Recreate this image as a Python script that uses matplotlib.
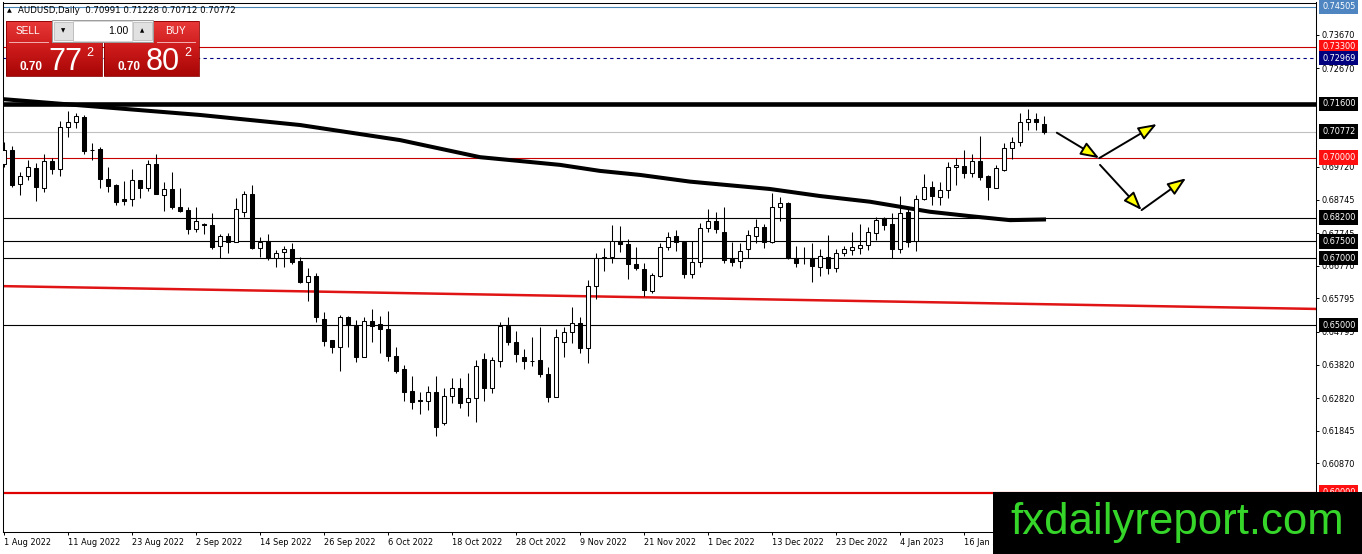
import numpy as np
import matplotlib
matplotlib.use("Agg")
from matplotlib import pyplot as plt
from matplotlib.patches import Rectangle
from matplotlib.colors import LinearSegmentedColormap

# AUDUSD daily candles, 1 Aug 2022 .. 30 Jan 2023
opens = [0.6980, 0.7022, 0.6921, 0.6945, 0.6969, 0.6909, 0.6990, 0.6966, 0.7092, 0.7107,
         0.7122, 0.7022, 0.7025, 0.6936, 0.6918, 0.6876, 0.6876, 0.6933, 0.6909, 0.6981,
         0.6888, 0.6906, 0.6851, 0.6843, 0.6786, 0.6801, 0.6799, 0.6736, 0.6767, 0.6749,
         0.6836, 0.6891, 0.6729, 0.6751, 0.6701, 0.6717, 0.6727, 0.6691, 0.6629, 0.6646,
         0.6517, 0.6455, 0.6433, 0.6523, 0.6497, 0.6404, 0.6513, 0.6503, 0.6487, 0.6407,
         0.6368, 0.6303, 0.6276, 0.6274, 0.6299, 0.6208, 0.6289, 0.6311, 0.6269, 0.6281,
         0.6399, 0.6313, 0.6393, 0.6498, 0.6450, 0.6404, 0.6394, 0.6396, 0.6354, 0.6286,
         0.6448, 0.6478, 0.6505, 0.6430, 0.6617, 0.6701, 0.6702, 0.6752, 0.6742, 0.6682,
         0.6666, 0.6602, 0.6646, 0.6732, 0.6766, 0.6747, 0.6651, 0.6687, 0.6789, 0.6811,
         0.6777, 0.6697, 0.6691, 0.6726, 0.6767, 0.6793, 0.6747, 0.6853, 0.6863, 0.6701,
         0.6701, 0.6701, 0.6674, 0.6704, 0.6669, 0.6714, 0.6724, 0.6731, 0.6739, 0.6774,
         0.6818, 0.6801, 0.6726, 0.6836, 0.6752, 0.6876, 0.6911, 0.6883, 0.6903, 0.6971,
         0.6975, 0.6955, 0.6990, 0.6945, 0.6908, 0.6963, 0.7027, 0.7045, 0.7105, 0.7115,
         0.70991]
highs = [0.7047, 0.7034, 0.6958, 0.6993, 0.6984, 0.7010, 0.6998, 0.7109, 0.7139, 0.7133,
         0.7127, 0.7044, 0.7032, 0.6973, 0.6920, 0.6930, 0.6966, 0.6933, 0.6993, 0.7010,
         0.6927, 0.6957, 0.6908, 0.6853, 0.6853, 0.6805, 0.6834, 0.6772, 0.6774, 0.6878,
         0.6901, 0.6918, 0.6762, 0.6771, 0.6724, 0.6736, 0.6746, 0.6704, 0.6671, 0.6656,
         0.6540, 0.6455, 0.6530, 0.6528, 0.6515, 0.6523, 0.6548, 0.6528, 0.6542, 0.6435,
         0.6381, 0.6348, 0.6299, 0.6318, 0.6348, 0.6311, 0.6341, 0.6341, 0.6358, 0.6396,
         0.6416, 0.6405, 0.6510, 0.6525, 0.6482, 0.6428, 0.6465, 0.6495, 0.6374, 0.6487,
         0.6493, 0.6553, 0.6525, 0.6634, 0.6716, 0.6731, 0.6799, 0.6796, 0.6756, 0.6732,
         0.6686, 0.6654, 0.6744, 0.6779, 0.6784, 0.6747, 0.6752, 0.6804, 0.6845, 0.6836,
         0.6851, 0.6747, 0.6746, 0.6784, 0.6816, 0.6801, 0.6893, 0.6883, 0.6868, 0.6737,
         0.6732, 0.6746, 0.6727, 0.6769, 0.6726, 0.6736, 0.6777, 0.6801, 0.6792, 0.6821,
         0.6823, 0.6835, 0.6886, 0.6848, 0.6888, 0.6951, 0.6931, 0.6928, 0.6987, 0.6998,
         0.7022, 0.7010, 0.7064, 0.6948, 0.6978, 0.7044, 0.7060, 0.7132, 0.7144, 0.7132,
         0.71228]
lows = [0.6972, 0.6912, 0.6888, 0.6933, 0.6870, 0.6897, 0.6951, 0.6946, 0.7062, 0.7088,
        0.7010, 0.6993, 0.6909, 0.6898, 0.6858, 0.6858, 0.6855, 0.6879, 0.6900, 0.6891,
        0.6841, 0.6846, 0.6836, 0.6771, 0.6779, 0.6772, 0.6727, 0.6701, 0.6714, 0.6749,
        0.6823, 0.6727, 0.6704, 0.6694, 0.6672, 0.6672, 0.6681, 0.6624, 0.6573, 0.6510,
        0.6438, 0.6416, 0.6364, 0.6435, 0.6390, 0.6404, 0.6450, 0.6417, 0.6393, 0.6356,
        0.6274, 0.6248, 0.6234, 0.6246, 0.6170, 0.6202, 0.6266, 0.6251, 0.6228, 0.6211,
        0.6273, 0.6298, 0.6374, 0.6440, 0.6389, 0.6368, 0.6378, 0.6346, 0.6271, 0.6286,
        0.6405, 0.6445, 0.6416, 0.6386, 0.6578, 0.6662, 0.6686, 0.6719, 0.6636, 0.6664,
        0.6587, 0.6595, 0.6644, 0.6724, 0.6722, 0.6641, 0.6641, 0.6672, 0.6779, 0.6774,
        0.6686, 0.6677, 0.6669, 0.6701, 0.6744, 0.6729, 0.6744, 0.6811, 0.6696, 0.6672,
        0.6682, 0.6629, 0.6647, 0.6652, 0.6659, 0.6707, 0.6709, 0.6712, 0.6724, 0.6754,
        0.6784, 0.6699, 0.6716, 0.6734, 0.6722, 0.6873, 0.6858, 0.6858, 0.6878, 0.6918,
        0.6940, 0.6941, 0.6933, 0.6873, 0.6908, 0.6961, 0.6995, 0.7035, 0.7082, 0.7082,
        0.70712]
closes = [0.7022, 0.6918, 0.6945, 0.6973, 0.6913, 0.6990, 0.6966, 0.7092, 0.7106, 0.7124,
          0.7019, 0.7021, 0.6936, 0.6916, 0.6868, 0.6870, 0.6933, 0.6909, 0.6981, 0.6891,
          0.6906, 0.6853, 0.6841, 0.6786, 0.6811, 0.6799, 0.6734, 0.6767, 0.6749, 0.6846,
          0.6891, 0.6729, 0.6749, 0.6699, 0.6714, 0.6727, 0.6689, 0.6629, 0.6646, 0.6525,
          0.6453, 0.6433, 0.6523, 0.6500, 0.6404, 0.6513, 0.6498, 0.6487, 0.6408, 0.6364,
          0.6301, 0.6271, 0.6274, 0.6299, 0.6195, 0.6289, 0.6311, 0.6268, 0.6281, 0.6378,
          0.6313, 0.6396, 0.6497, 0.6450, 0.6413, 0.6393, 0.6393, 0.6353, 0.6286, 0.6463,
          0.6478, 0.6505, 0.6430, 0.6617, 0.6701, 0.6702, 0.6752, 0.6741, 0.6681, 0.6671,
          0.6604, 0.6649, 0.6732, 0.6764, 0.6747, 0.6651, 0.6687, 0.6789, 0.6811, 0.6786,
          0.6694, 0.6687, 0.6722, 0.6769, 0.6793, 0.6747, 0.6853, 0.6863, 0.6701, 0.6684,
          0.6699, 0.6676, 0.6707, 0.6669, 0.6714, 0.6726, 0.6732, 0.6739, 0.6777, 0.6813,
          0.6799, 0.6726, 0.6835, 0.6749, 0.6875, 0.6911, 0.6885, 0.6903, 0.6971, 0.6978,
          0.6955, 0.6990, 0.6943, 0.6911, 0.6968, 0.7027, 0.7045, 0.7107, 0.7115, 0.7105,
          0.70772]
ask = 0.70802

# date labels every 8 bars
date_ticks = [0, 8, 16, 24, 32, 40, 48, 56, 64, 72, 80, 88, 96, 104, 112, 120]
date_labels = ["1 Aug 2022", "11 Aug 2022", "23 Aug 2022", "2 Sep 2022", "14 Sep 2022",
               "26 Sep 2022", "6 Oct 2022", "18 Oct 2022", "28 Oct 2022", "9 Nov 2022",
               "21 Nov 2022", "1 Dec 2022", "13 Dec 2022", "23 Dec 2022", "4 Jan 2023",
               "16 Jan 2023"]

price_ticks = [0.73670, 0.72670, 0.69720, 0.68745, 0.67745, 0.66770, 0.65795,
               0.64795, 0.63820, 0.62820, 0.61845, 0.60870]

# moving average (thick black curve)
ma_bars = [0, 12, 24.5, 37, 49.5, 59.5, 69.5, 74.5, 79.5, 85.75, 95.75, 102,
           108.25, 112, 115.75, 120.75, 125.75, 130]
ma_vals = [0.7174, 0.7151, 0.7127, 0.7097, 0.7052, 0.7001, 0.6978, 0.6960, 0.6948,
           0.6928, 0.6906, 0.6885, 0.6868, 0.6853, 0.6838, 0.6825, 0.6813, 0.6815]

# red trend line
trend_bars = [0, 164]
trend_vals = [0.6616, 0.6548]

# horizontal levels
levels = [0.74505, 0.73300, 0.72969, 0.71600, 0.70772, 0.70000, 0.68200, 0.67500, 0.67000, 0.65000, 0.60000]
level_colors = ["#4682b4", "#c80000", "#000080", "black", "#c0c0c0", "#c80000",
                "black", "black", "black", "black", "#e00000"]
level_widths = [0.8, 0.8, 0.8, 3.3, 0.8, 0.8, 0.8, 0.8, 0.8, 0.8, 1.6]
level_styles = ["-", "-", (0, (3, 3)), "-", "-", "-", "-", "-", "-", "-", "-"]
label_bg = ["#4f86c2", "#ff1010", "#00007f", "black", "black", "#ff1010",
            "black", "black", "black", "black", "#ff1010"]

# scenario arrows
arr_x0 = [131.6, 136.9, 137.0, 142.2]
arr_y0 = [0.7074, 0.6998, 0.6978, 0.6843]
arr_x1 = [136.9, 144.1, 142.2, 147.75]
arr_y1 = [0.6998, 0.7100, 0.6843, 0.6938]

W, H = 1362, 554
fig = plt.figure(figsize=(W / 100, H / 100), dpi=100, facecolor="white")
ax = fig.add_axes([3 / W, 22 / H, 1313 / W, 529.5 / H])
ax.set_xlim(-0.125, 164)
ax.set_ylim(0.58821, 0.74627)

for lvl, col, lw, ls in zip(levels, level_colors, level_widths, level_styles):
    ax.axhline(lvl, color=col, lw=lw, ls=ls, zorder=1)

ax.plot(trend_bars, trend_vals, color="#e01414", lw=1.8, zorder=1.2)
ax.plot(ma_bars, ma_vals, color="black", lw=2.9, zorder=1.5)

o = np.array(opens)
h = np.array(highs)
l = np.array(lows)
c = np.array(closes)
x = np.arange(len(o))
up = c >= o
ax.vlines(x, l, h, color="black", lw=0.75, zorder=3)
body_lo = np.minimum(o, c)
body_h = np.maximum(np.abs(c - o), 0.00004)
ax.bar(x, body_h, 0.58, bottom=body_lo, color=np.where(up, "white", "black"),
       edgecolor="black", linewidth=0.75, zorder=4)

for x0, y0, x1, y1 in zip(arr_x0, arr_y0, arr_x1, arr_y1):
    ax.annotate("", xy=(x1, y1), xytext=(x0, y0), zorder=6,
                arrowprops=dict(arrowstyle="-|>,head_length=0.8,head_width=0.3",
                                fc="#ffff00", ec="black", lw=1.4,
                                mutation_scale=14, shrinkA=0, shrinkB=0))

# axes look
for s in ax.spines.values():
    s.set_color("black")
    s.set_linewidth(0.75)
ax.yaxis.tick_right()
ax.set_yticks(price_ticks)
ax.set_yticklabels(["%.5f" % p for p in price_ticks])
ax.set_xticks(date_ticks)
ax.set_xticklabels(date_labels)
for lab in ax.get_xticklabels():
    lab.set_ha("left")
ax.tick_params(axis="both", length=2.2, width=0.7, labelsize=5.9, pad=2, colors="black")

for lvl, bg in zip(levels, label_bg):
    ax.text(1.00457, lvl, "%.5f" % lvl, transform=ax.get_yaxis_transform(),
            ha="left", va="center", fontsize=5.9, color="white", zorder=7, clip_on=False,
            bbox=dict(boxstyle="square,pad=0.35", fc=bg, ec="none"))

# one-click trading panel (screen chrome, pixel coordinates)
ui = fig.add_axes([0, 0, 1, 1])
ui.patch.set_alpha(0)
red_cmap = LinearSegmentedColormap.from_list("btn", ["#e83838", "#cc1a1a", "#a80606"])
grad = np.linspace(0, 1, 64).reshape(-1, 1)
ui.imshow(grad, cmap=red_cmap, extent=(6, 102, 76, 21), aspect="auto", zorder=1)
ui.imshow(grad, cmap=red_cmap, extent=(104, 199, 76, 21), aspect="auto", zorder=1)
ui.add_patch(Rectangle((6, 21), 96, 55, fill=False, ec="#8a0000", lw=0.6, zorder=2))
ui.add_patch(Rectangle((104, 21), 95, 55, fill=False, ec="#8a0000", lw=0.6, zorder=2))
ui.plot([9, 48], [42, 42], color="#f2b0b0", lw=0.7, zorder=2)
ui.plot([157, 195], [42, 42], color="#f2b0b0", lw=0.7, zorder=2)
ui.add_patch(Rectangle((52, 20), 101, 22, fc="#f4f4f4", ec="#9c9c9c", lw=0.7, zorder=3))
ui.add_patch(Rectangle((73, 21), 59, 20, fc="white", ec="#c8c8c8", lw=0.5, zorder=4))
ui.add_patch(Rectangle((54, 22), 19, 18, fc="#e1e1e1", ec="#b4b4b4", lw=0.5, zorder=4))
ui.add_patch(Rectangle((133, 22), 19, 18, fc="#e1e1e1", ec="#b4b4b4", lw=0.5, zorder=4))
ui.text(63.5, 31, "▼", fontsize=4, ha="center", va="center", zorder=5)
ui.text(142.5, 31, "▲", fontsize=4, ha="center", va="center", zorder=5)
ui.text(128, 31, "1.00", fontsize=7.5, family="Liberation Sans", ha="right", va="center", zorder=5)
ui.text(28, 31, "SELL", fontsize=7.2, family="Liberation Sans", color="white", ha="center", va="center", zorder=5)
ui.text(175, 31, "BUY", fontsize=7.2, family="Liberation Sans", color="white", ha="center", va="center", zorder=5)

bid_s = "%.5f" % closes[-1]
ask_s = "%.5f" % ask
for left, s in [(20, bid_s), (118, ask_s)]:
    ui.text(left, 70, s[:4], fontsize=8.5, weight="bold", family="Liberation Sans",
            color="white", va="baseline", zorder=5)
    ui.text(left + 28, 70, s[4:6], fontsize=22, family="Liberation Sans",
            color="white", va="baseline", zorder=5)
    ui.text(left + 66, 56, s[6], fontsize=9, family="Liberation Sans",
            color="white", va="baseline", zorder=5)

ui.text(7, 10.5, "▲", fontsize=4.5, va="center", zorder=5)
ui.text(18, 10.5, "AUDUSD,Daily  %.5f %.5f %.5f %.5f" % (opens[-1], highs[-1], lows[-1], closes[-1]),
        fontsize=6.2, va="center", zorder=5)
ui.set_xlim(0, W)
ui.set_ylim(H, 0)
ui.axis("off")

# watermark
wm = fig.add_axes([993 / W, 0, 369 / W, 62 / H])
wm.set_facecolor("black")
wm.set_xticks([])
wm.set_yticks([])
for s in wm.spines.values():
    s.set_visible(False)
wm.text(0.048, 0.318, "fxdailyreport.com", color="#36d52a", fontsize=31.5,
        family="Liberation Sans", va="baseline", transform=wm.transAxes)

fig.savefig("out.png", dpi=100, facecolor="white")
